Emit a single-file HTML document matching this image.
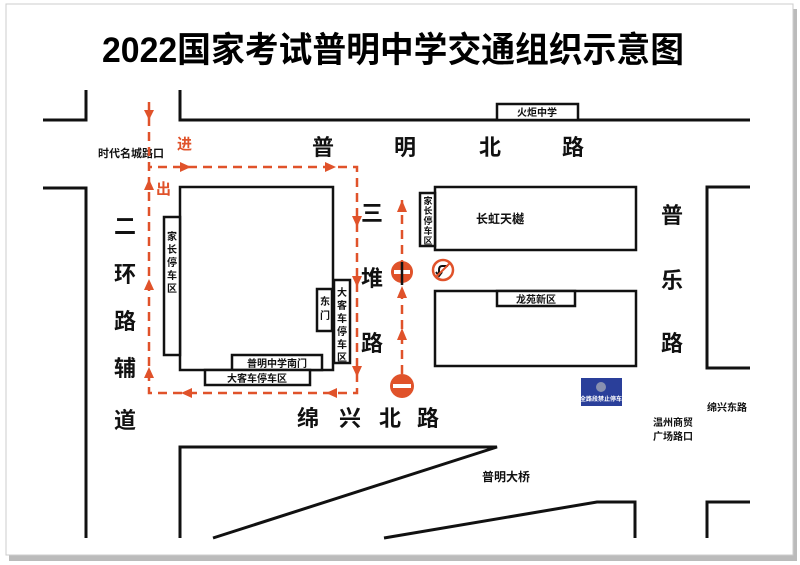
<!DOCTYPE html>
<html><head><meta charset="utf-8"><style>
html,body{margin:0;padding:0;background:#fff;}
svg{display:block;}
text{font-family:"Liberation Sans","Noto Sans CJK SC",sans-serif;font-weight:bold;}
</style></head><body>
<svg width="800" height="565" viewBox="0 0 800 565" xmlns="http://www.w3.org/2000/svg">
<defs>
<marker id="ar" viewBox="0 0 10 10" refX="5" refY="5" markerWidth="4" markerHeight="4" orient="auto"><path d="M0,0 L10,5 L0,10 z" fill="#e0522a"/></marker>
</defs>
<rect x="0" y="0" width="800" height="565" fill="#fff"/>
<rect x="9" y="9" width="788" height="552" fill="#bbb"/>
<rect x="6" y="4" width="787" height="551" fill="#fff" stroke="#ccc" stroke-width="1"/>
<text x="393" y="62" font-size="35" text-anchor="middle" fill="#000" textLength="582" lengthAdjust="spacingAndGlyphs">2022国家考试普明中学交通组织示意图</text>
<g stroke="#111" stroke-width="3" fill="none">
<polyline points="43,120 86,120 86,90"/>
<polyline points="180,90 180,120 750,120"/>
<polyline points="43,188 86,188 86,538"/>
<polyline points="750,187 707,187 707,368 750,368"/>
<polyline points="180,538 180,447 497,447 213,538"/>
<polyline points="384,538 597,502 635,502 635,538"/>
<polyline points="707,538 707,502 750,502"/>
</g>
<g stroke="#111" stroke-width="2.5" fill="#fff">
<rect x="497" y="104" width="81" height="16"/>
<rect x="180" y="187" width="153" height="183"/>
<rect x="164" y="217" width="16" height="138"/>
<rect x="232" y="355" width="90" height="15"/>
<rect x="205" y="370" width="105" height="15"/>
<rect x="317" y="289" width="15" height="42"/>
<rect x="334" y="280" width="16" height="83"/>
<rect x="435" y="187" width="201" height="63"/>
<rect x="420" y="193" width="15" height="53"/>
<rect x="435" y="291" width="201" height="75"/>
<rect x="497" y="291" width="78" height="15"/>
</g>
<g font-size="10" fill="#111" text-anchor="middle">
<text x="537" y="116">火炬中学</text>
<text x="277" y="367">普明中学南门</text>
<text x="257" y="382">大客车停车区</text>
<text x="536" y="303">龙苑新区</text>
<text x="131" y="157" font-size="11">时代名城路口</text>
<text x="500" y="223" font-size="12">长虹天樾</text>
<text x="482" y="481" font-size="12" text-anchor="start">普明大桥</text>
<text x="727" y="411" font-size="10">绵兴东路</text>
<text x="673" y="426" font-size="10">温州商贸</text>
<text x="673" y="440" font-size="10">广场路口</text>
</g>
<g font-size="10" fill="#111" text-anchor="middle">
<text x="172" y="240">家</text><text x="172" y="253">长</text><text x="172" y="266">停</text><text x="172" y="279">车</text><text x="172" y="292">区</text>
<text x="325" y="305">东</text><text x="325" y="319">门</text>
<text x="342" y="296">大</text><text x="342" y="309">客</text><text x="342" y="322">车</text><text x="342" y="335">停</text><text x="342" y="348">车</text><text x="342" y="361">区</text>
<text x="428" y="204" font-size="9">家</text><text x="428" y="214" font-size="9">长</text><text x="428" y="224" font-size="9">停</text><text x="428" y="234" font-size="9">车</text><text x="428" y="244" font-size="9">区</text>
</g>
<g font-size="22" fill="#111" text-anchor="middle">
<text x="323" y="155">普</text><text x="405" y="155">明</text><text x="490" y="155">北</text><text x="573" y="155">路</text>
<text x="125" y="234">二</text><text x="125" y="282">环</text><text x="125" y="329">路</text><text x="125" y="376">辅</text><text x="125" y="428">道</text>
<text x="372" y="221">三</text><text x="372" y="286">堆</text><text x="372" y="351">路</text>
<text x="672" y="223">普</text><text x="672" y="288">乐</text><text x="672" y="351">路</text>
<text x="308" y="426">绵</text><text x="350" y="426">兴</text><text x="390" y="426">北</text><text x="428" y="426">路</text>
</g>
<g font-size="15" fill="#e0522a">
<text x="177" y="149">进</text>
<text x="156" y="194">出</text>
</g>
<g stroke="#e0522a" stroke-width="2.5" fill="none" stroke-dasharray="9,6">
<polyline points="149,102 149,393 357,393 357,167 149,167"/>
<line x1="402" y1="200" x2="402" y2="375"/>
</g>
<g fill="#e0522a">
<path d="M144,110 L154,110 L149,120z"/>
<path d="M180,162 L180,172 L191,167z"/>
<path d="M325,162 L325,172 L336,167z"/>
<path d="M352,216 L362,216 L357,227z"/>
<path d="M352,276 L362,276 L357,287z"/>
<path d="M352,366 L362,366 L357,377z"/>
<path d="M337,388 L337,398 L326,393z"/>
<path d="M192,388 L192,398 L181,393z"/>
<path d="M144,190 L154,190 L149,179z"/>
<path d="M144,290 L154,290 L149,279z"/>
<path d="M144,378 L154,378 L149,367z"/>
<path d="M397,212 L407,212 L402,200z"/>
<path d="M397,298 L407,298 L402,286z"/>
<path d="M397,340 L407,340 L402,328z"/>
<circle cx="402" cy="272" r="11"/>
<circle cx="402" cy="386" r="12"/>
</g>
<rect x="394" y="270" width="16" height="4" fill="#fff"/>
<rect x="393" y="384" width="18" height="4" fill="#fff"/>
<line x1="402" y1="262" x2="402" y2="285" stroke="#111" stroke-width="2.5"/>
<circle cx="443" cy="270" r="10" fill="#fff" stroke="#e0522a" stroke-width="2.5"/>
<path d="M448,266 L442,266 Q439,266 439,270 L439,275 M436,272 L439,276 L442,272" stroke="#111" stroke-width="2" fill="none"/>
<line x1="436" y1="277" x2="450" y2="263" stroke="#e0522a" stroke-width="2"/>
<rect x="581" y="378" width="41" height="28" fill="#2a3f9a"/>
<circle cx="601" cy="387" r="5" fill="#8890b0"/>
<text x="601" y="401" font-size="6" fill="#fff" text-anchor="middle">全路段禁止停车</text>
</svg>
</body></html>
